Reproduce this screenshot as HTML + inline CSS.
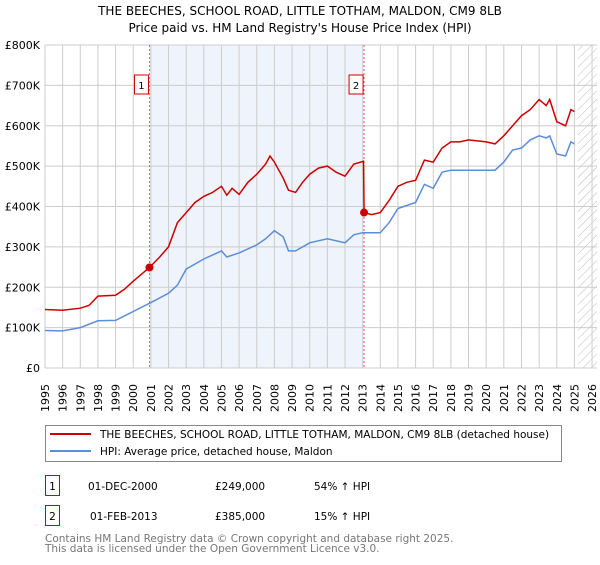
<!DOCTYPE html>
<html><head><meta charset="utf-8"><style>
body{margin:0;background:#fff;font-family:"Liberation Sans","DejaVu Sans",sans-serif;}
svg text{font-family:"DejaVu Sans","Liberation Sans",sans-serif;}
</style></head><body>
<svg id="c" width="600" height="560" xmlns="http://www.w3.org/2000/svg">
<defs><pattern id="h" width="6" height="6" patternUnits="userSpaceOnUse" patternTransform="rotate(45)"><line x1="0" y1="0" x2="0" y2="6" stroke="#bbb" stroke-width="1"/></pattern></defs>
<text x="300" y="15" font-size="12" text-anchor="middle">THE BEECHES, SCHOOL ROAD, LITTLE TOTHAM, MALDON, CM9 8LB</text>
<text x="300" y="32" font-size="12" text-anchor="middle">Price paid vs. HM Land Registry's House Price Index (HPI)</text>
<g id="plot"></g>
<rect x="45.5" y="425.5" width="516" height="36" fill="#fff" stroke="#888"/>
<line x1="50" y1="434" x2="91" y2="434" stroke="#cc0000" stroke-width="2"/>
<text x="100" y="438" font-size="10.5">THE BEECHES, SCHOOL ROAD, LITTLE TOTHAM, MALDON, CM9 8LB (detached house)</text>
<line x1="50" y1="451" x2="91" y2="451" stroke="#5b8ed6" stroke-width="2"/>
<text x="100" y="455" font-size="10.5">HPI: Average price, detached house, Maldon</text>
<rect x="45.5" y="475.5" width="14" height="20" fill="#fff" stroke="#cc0000"/>
<text x="52.5" y="490" font-size="10.5" text-anchor="middle">1</text>
<text x="88" y="490" font-size="10.5">01-DEC-2000</text>
<text x="215" y="490" font-size="10.5">£249,000</text>
<text x="314" y="490" font-size="10.5">54% ↑ HPI</text>
<rect x="45.5" y="505.5" width="14" height="20" fill="#fff" stroke="#cc0000"/>
<text x="52.5" y="520" font-size="10.5" text-anchor="middle">2</text>
<text x="90" y="520" font-size="10.5">01-FEB-2013</text>
<text x="215" y="520" font-size="10.5">£385,000</text>
<text x="314" y="520" font-size="10.5">15% ↑ HPI</text>
<text x="45" y="542" font-size="10.5" fill="#777">Contains HM Land Registry data © Crown copyright and database right 2025.</text>
<text x="45" y="552" font-size="10.5" fill="#777">This data is licensed under the Open Government Licence v3.0.</text>
</svg>
<script>
const yTicks=[0,100,200,300,400,500,600,700,800];
const yTickLabels=["£0","£100K","£200K","£300K","£400K","£500K","£600K","£700K","£800K"];
const years=[1995,1996,1997,1998,1999,2000,2001,2002,2003,2004,2005,2006,2007,2008,2009,2010,2011,2012,2013,2014,2015,2016,2017,2018,2019,2020,2021,2022,2023,2024,2025,2026];
const redT=[1995,1996,1997,1997.5,1998,1999,1999.5,2000,2000.92,2001.5,2002,2002.5,2003,2003.5,2004,2004.5,2005,2005.3,2005.6,2006,2006.5,2007,2007.5,2007.75,2008,2008.5,2008.8,2009.2,2009.6,2010,2010.5,2011,2011.5,2012,2012.5,2013.05,2013.08,2013.5,2014,2014.5,2015,2015.5,2016,2016.5,2017,2017.5,2018,2018.5,2019,2020,2020.5,2021,2021.5,2022,2022.5,2023,2023.4,2023.6,2024,2024.5,2024.8,2025];
const redV=[145,143,148,155,178,180,195,215,249,275,300,360,385,410,425,435,450,428,445,430,460,480,505,525,510,470,440,435,460,480,495,500,485,475,505,512,385,380,385,415,450,460,465,515,510,545,560,560,565,560,555,575,600,625,640,665,650,665,610,600,640,635];
const hpiT=[1995,1996,1997,1998,1999,2000,2001,2002,2002.5,2003,2004,2005,2005.3,2006,2007,2007.5,2008,2008.5,2008.8,2009.2,2010,2011,2012,2012.5,2013,2014,2014.5,2015,2016,2016.5,2017,2017.5,2018,2019,2020,2020.5,2021,2021.5,2022,2022.5,2023,2023.4,2023.6,2024,2024.5,2024.8,2025];
const hpiV=[93,92,100,117,118,140,162,185,205,245,270,290,275,285,305,320,340,325,290,290,310,320,310,330,335,335,360,395,410,455,445,485,490,490,490,490,510,540,545,565,575,570,575,530,525,560,555];
const sales=[[2000.92,249,"1"],[2013.08,385,"2"]];
const X0=45,X1=597,Y0=368,Y1=45,D0=1995,D1=2026.28;
const x=t=>X0+(t-D0)*(X1-X0)/(D1-D0);
const y=v=>Y0-(v)*(Y0-Y1)/800;
const NS="http://www.w3.org/2000/svg",g=document.getElementById('plot');
function mk(tag,a){const e=document.createElementNS(NS,tag);for(const k in a)e.setAttribute(k,a[k]);g.appendChild(e);return e;}
let e=mk('rect',{x:x(sales[0][0]),y:Y1,width:x(sales[1][0])-x(sales[0][0]),height:Y0-Y1,fill:'#eef3fc'});


e=mk('rect',{x:x(2025.2),y:Y1,width:X1-x(2025.2),height:Y0-Y1,fill:'url(#h)'});


years.forEach(t=>{const l=mk('line',{x1:x(t),x2:x(t),y1:Y1,y2:Y0,stroke:'#ccc','stroke-width':1});


const tx=mk('text',{x:0,y:0,'font-size':11,transform:`translate(${x(t)+4},${Y0+44}) rotate(-90)`});tx.textContent=t;

});
yTicks.forEach((v,i)=>{const l=mk('line',{x1:X0,x2:X1,y1:y(v),y2:y(v),stroke:'#ccc','stroke-width':1});


const tx=mk('text',{x:X0-5,y:y(v)+4,'font-size':11,'text-anchor':'end'});tx.textContent=yTickLabels[i];

});
sales.forEach(s=>{const l=mk('line',{x1:x(s[0]),x2:x(s[0]),y1:Y1,y2:Y0,stroke:'#e06666','stroke-dasharray':'2,2'});

});
function path(T,V,c,n){const p=mk('path',{d:T.map((t,i)=>(i?'L':'M')+x(t).toFixed(1)+','+y(V[i]).toFixed(1)).join(''),fill:'none',stroke:c,'stroke-width':1.5});

}
path(hpiT,hpiV,'#5b8ed6','hpi-line');
path(redT,redV,'#cc0000','property-price-line');
sales.forEach(s=>{const c=mk('circle',{cx:x(s[0]),cy:y(s[1]),r:4,fill:'#cc0000'});


const r=mk('rect',{x:x(s[0])-15,y:75,width:14,height:19,fill:'#fff',stroke:'#cc0000'});


const tx=mk('text',{x:x(s[0])-8,y:89,'font-size':10,'text-anchor':'middle'});tx.textContent=s[2];

});
</script>
</body></html>
